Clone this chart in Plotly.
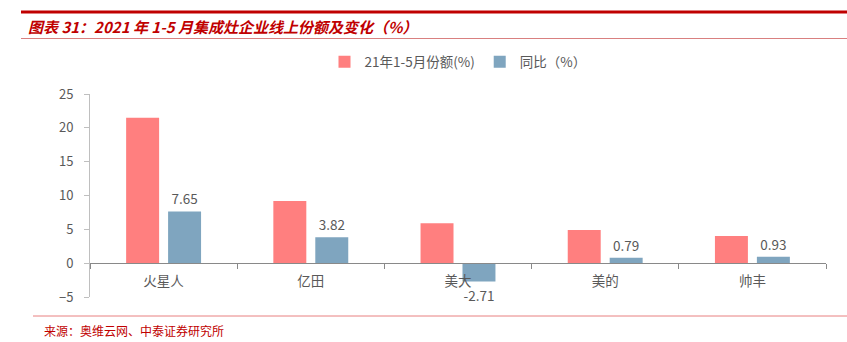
import plotly.graph_objects as go

categories = ["火星人", "亿田", "美大", "美的", "帅丰"]
share_vals = [21.5, 9.2, 5.9, 4.9, 4.0]
yoy_vals = [7.65, 3.82, -2.71, 0.79, 0.93]
yoy_labels = ["7.65", "3.82", "-2.71", "0.79", "0.93"]
y_ticks = [-5, 0, 5, 10, 15, 20, 25]

FONT = "Noto Sans CJK SC"
GRAY = "#595959"
W, H = 847, 342
L, R, T, B = 90, 21, 94, 45
pw, ph = W - L - R, H - T - B

def px(x):
    return (x - L) / pw

def py(y):
    return (H - B - y) / ph

fig = go.Figure()
fig.add_trace(go.Bar(
    x=categories, y=share_vals, name="21年1-5月份额(%)",
    marker=dict(color="#FF7F7F", line=dict(width=0)),
))
fig.add_trace(go.Bar(
    x=categories, y=yoy_vals, name="同比（%）",
    marker=dict(color="#7FA5BF", line=dict(width=0)),
    text=yoy_labels, textposition="outside", cliponaxis=False,
    textfont=dict(family=FONT, size=13.5, color=GRAY),
))

fig.update_layout(
    width=W, height=H,
    margin=dict(l=L, r=R, t=T, b=B),
    paper_bgcolor="white", plot_bgcolor="white",
    font=dict(family=FONT, size=13, color=GRAY),
    barmode="group", bargap=0.43, bargroupgap=0.214,
    showlegend=True,
    legend=dict(orientation="h", x=0.5, xanchor="center", y=py(62), yanchor="middle",
                font=dict(family=FONT, size=13.5, color=GRAY), itemwidth=30,
                traceorder="normal"),
    yaxis=dict(range=[-5, 25], tickvals=y_ticks, showgrid=False, zeroline=False,
               showline=True, linecolor="#BFBFBF", linewidth=1,
               ticks="outside", ticklen=5, tickcolor="#BFBFBF", ticklabelstandoff=8,
               tickfont=dict(family=FONT, size=13, color=GRAY)),
    xaxis=dict(anchor="free", position=5 / 30, showgrid=False, zeroline=False,
               showline=True, linecolor="#898989", linewidth=1,
               ticks="outside", ticklen=5, tickcolor="#898989", tickson="boundaries",
               ticklabelstandoff=6,
               tickfont=dict(family=FONT, size=13.5, color=GRAY)),
)

shapes = [
    dict(type="line", xref="paper", yref="paper", x0=px(21), x1=px(847), y0=py(12), y1=py(12),
         line=dict(color="#C00000", width=3)),
    dict(type="line", xref="paper", yref="paper", x0=px(21), x1=px(847), y0=py(38.5), y1=py(38.5),
         line=dict(color="#D98080", width=1)),
    dict(type="line", xref="paper", yref="paper", x0=px(33), x1=px(847), y0=py(316), y1=py(316),
         line=dict(color="#E88080", width=1)),
]
fig.update_layout(shapes=shapes)

fig.add_annotation(text="<b><i>图表 31：2021 年 1-5 月集成灶企业线上份额及变化（%）</i></b>",
                   xref="paper", yref="paper", x=px(26), y=py(26), xanchor="left", yanchor="middle",
                   showarrow=False, font=dict(family=FONT, size=15, color="#C00000"))
fig.add_annotation(text="来源：奥维云网、中泰证券研究所",
                   xref="paper", yref="paper", x=px(42), y=py(330), xanchor="left", yanchor="middle",
                   showarrow=False, font=dict(family=FONT, size=12, color="#C00000"))

fig.write_html("out.html")
